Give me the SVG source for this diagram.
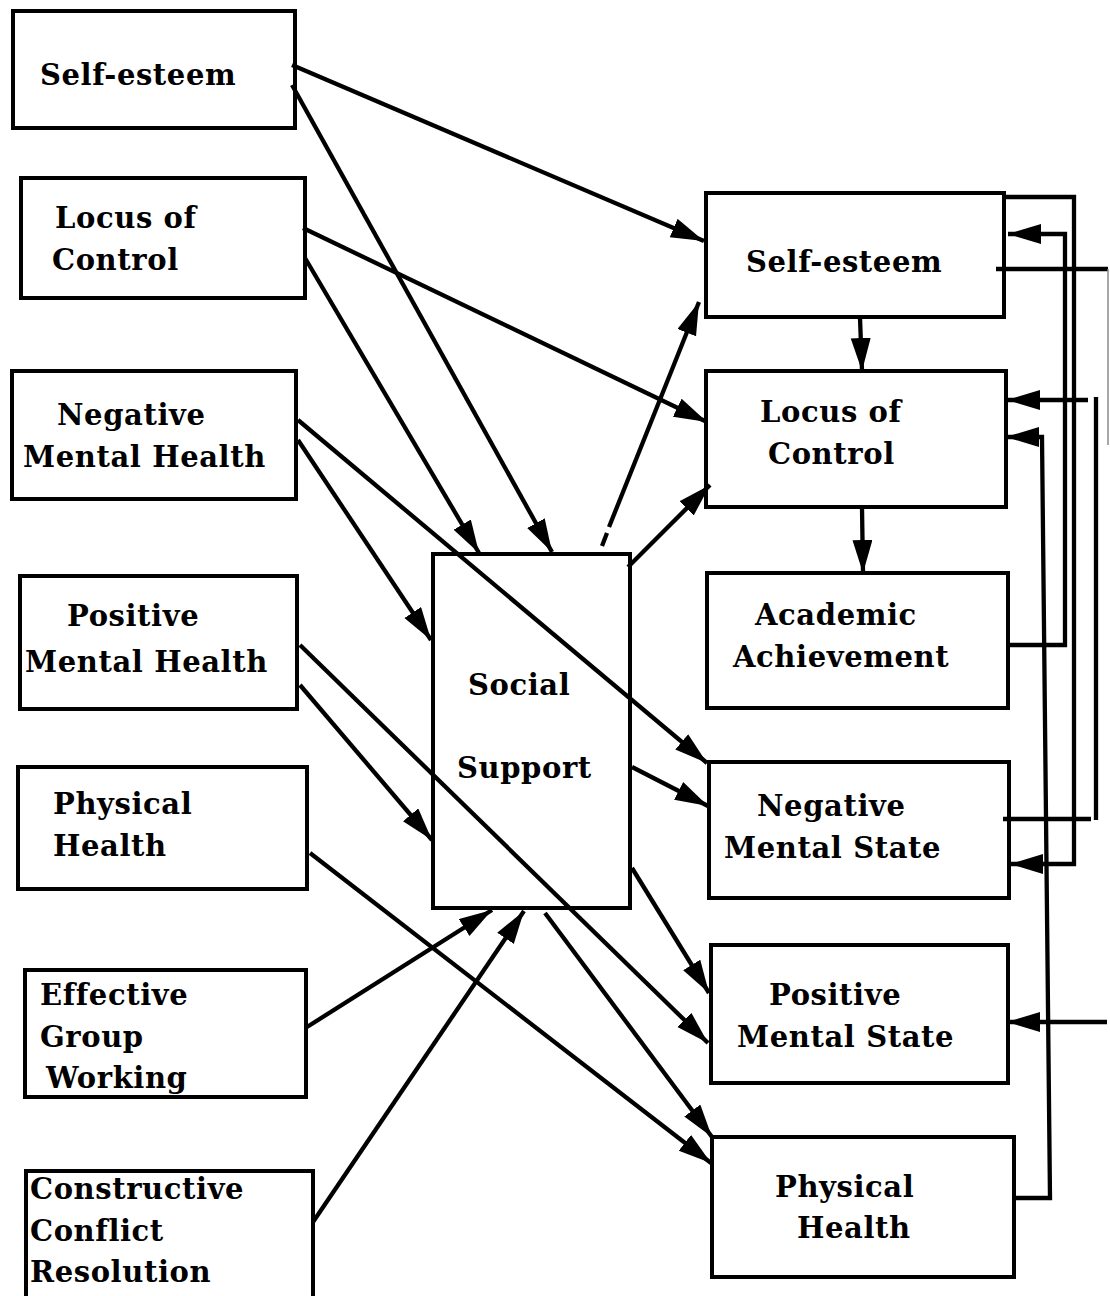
<svg xmlns="http://www.w3.org/2000/svg" width="1110" height="1296" viewBox="0 0 1110 1296">
  <defs>
    <marker id="arrow" markerUnits="userSpaceOnUse" markerWidth="36" markerHeight="22" refX="33" refY="10" orient="auto">
      <path d="M0,0 L33,10 L0,20 Z" fill="#000"/>
    </marker>
    <style>
      .box { fill: #fff; stroke: #000; stroke-width: 4; }
      .lbl { font-family: "DejaVu Serif", "Liberation Serif", serif; font-weight: bold; font-size: 29px; letter-spacing: 0.6px; fill: #000; }
      .edge { fill: none; stroke: #000; stroke-width: 4.3; stroke-linejoin: miter; }
      .arr { marker-end: url(#arrow); }
      .faint { fill: none; stroke: #888; stroke-width: 1.5; }
    </style>
  </defs>
  <rect width="1110" height="1296" fill="#fff"/>

  <!-- predictor boxes (left column) -->
  <g id="l-self-esteem">
    <rect class="box" x="13" y="11" width="282" height="117"/>
    <text class="lbl" x="40" y="85">Self-esteem</text>
  </g>
  <g id="l-locus">
    <rect class="box" x="21" y="178" width="284" height="120"/>
    <text class="lbl" x="55" y="228">Locus of</text>
    <text class="lbl" x="52" y="270">Control</text>
  </g>
  <g id="l-neg-mental-health">
    <rect class="box" x="12" y="371" width="284" height="128"/>
    <text class="lbl" x="57" y="425">Negative</text>
    <text class="lbl" x="23" y="467">Mental Health</text>
  </g>
  <g id="l-pos-mental-health">
    <rect class="box" x="20" y="576" width="277" height="133"/>
    <text class="lbl" x="67" y="626">Positive</text>
    <text class="lbl" x="25" y="672">Mental Health</text>
  </g>
  <g id="l-physical-health">
    <rect class="box" x="18" y="767" width="289" height="122"/>
    <text class="lbl" x="53" y="814">Physical</text>
    <text class="lbl" x="53" y="856">Health</text>
  </g>
  <g id="l-group-working">
    <rect class="box" x="25" y="970" width="281" height="127"/>
    <text class="lbl" x="40" y="1005">Effective</text>
    <text class="lbl" x="40" y="1047">Group</text>
    <text class="lbl" x="46" y="1088">Working</text>
  </g>
  <g id="l-conflict-resolution">
    <rect class="box" x="26" y="1171" width="287" height="132"/>
    <text class="lbl" x="30" y="1199">Constructive</text>
    <text class="lbl" x="30" y="1241">Conflict</text>
    <text class="lbl" x="30" y="1282">Resolution</text>
  </g>

  <!-- mediator -->
  <g id="social-support">
    <rect class="box" x="433" y="554" width="197" height="354"/>
    <text class="lbl" x="468" y="695">Social</text>
    <text class="lbl" x="457" y="778">Support</text>
  </g>

  <!-- outcome boxes (right column) -->
  <g id="r-self-esteem">
    <rect class="box" x="706" y="193" width="298" height="124"/>
    <text class="lbl" x="746" y="272">Self-esteem</text>
  </g>
  <g id="r-locus">
    <rect class="box" x="706" y="371" width="300" height="136"/>
    <text class="lbl" x="760" y="422">Locus of</text>
    <text class="lbl" x="768" y="464">Control</text>
  </g>
  <g id="r-academic">
    <rect class="box" x="707" y="573" width="301" height="135"/>
    <text class="lbl" x="755" y="625">Academic</text>
    <text class="lbl" x="733" y="667">Achievement</text>
  </g>
  <g id="r-neg-mental-state">
    <rect class="box" x="709" y="762" width="300" height="136"/>
    <text class="lbl" x="757" y="816">Negative</text>
    <text class="lbl" x="724" y="858">Mental State</text>
  </g>
  <g id="r-pos-mental-state">
    <rect class="box" x="711" y="945" width="297" height="138"/>
    <text class="lbl" x="769" y="1005">Positive</text>
    <text class="lbl" x="737" y="1047">Mental State</text>
  </g>
  <g id="r-physical-health">
    <rect class="box" x="712" y="1137" width="302" height="140"/>
    <text class="lbl" x="775" y="1197">Physical</text>
    <text class="lbl" x="797" y="1238">Health</text>
  </g>

  <!-- connectors -->
  <g id="connectors">
    <path class="edge arr" d="M292,65 L704,241"/>
    <path class="edge arr" d="M292,85 L552,552"/>
    <path class="edge arr" d="M303,228 L707,422"/>
    <path class="edge arr" d="M305,258 L479,553"/>
    <path class="edge arr" d="M298,420 L707,763"/>
    <path class="edge arr" d="M298,440 L431,640"/>
    <path class="edge arr" d="M300,645 L708,1043"/>
    <path class="edge arr" d="M300,685 L432,840"/>
    <path class="edge arr" d="M310,853 L711,1163"/>
    <path class="edge arr" d="M307,1027 L492,910"/>
    <path class="edge arr" d="M313,1222 L524,911"/>
    <path class="edge" d="M602,546 L607,533"/>
    <path class="edge arr" d="M609,527 L699,302"/>
    <path class="edge arr" d="M628,567 L710,485"/>
    <path class="edge arr" d="M632,767 L708,806"/>
    <path class="edge arr" d="M632,868 L709,993"/>
    <path class="edge arr" d="M545,913 L712,1137"/>
    <path class="edge arr" d="M860,318 L862,371"/>
    <path class="edge arr" d="M862,508 L863,573"/>

    <!-- feedback loops on the right -->
    <path class="edge arr" d="M1004,197 H1074 V864 H1010"/>
    <path class="edge arr" d="M1008,645 H1065 V234 H1008"/>
    <path class="edge" d="M996,269 H1108"/>
    <path class="faint" d="M1108,269 V445"/>
    <path class="edge arr" d="M1107,1022 H1007"/>
    <path class="edge" d="M1003,819 H1091"/>
    <path class="edge" d="M1096,397 V820"/>
    <path class="edge arr" d="M1088,400 H1007"/>
    <path class="edge arr" d="M1013,1198 H1050 L1042,437 H1006"/>
  </g>
</svg>
